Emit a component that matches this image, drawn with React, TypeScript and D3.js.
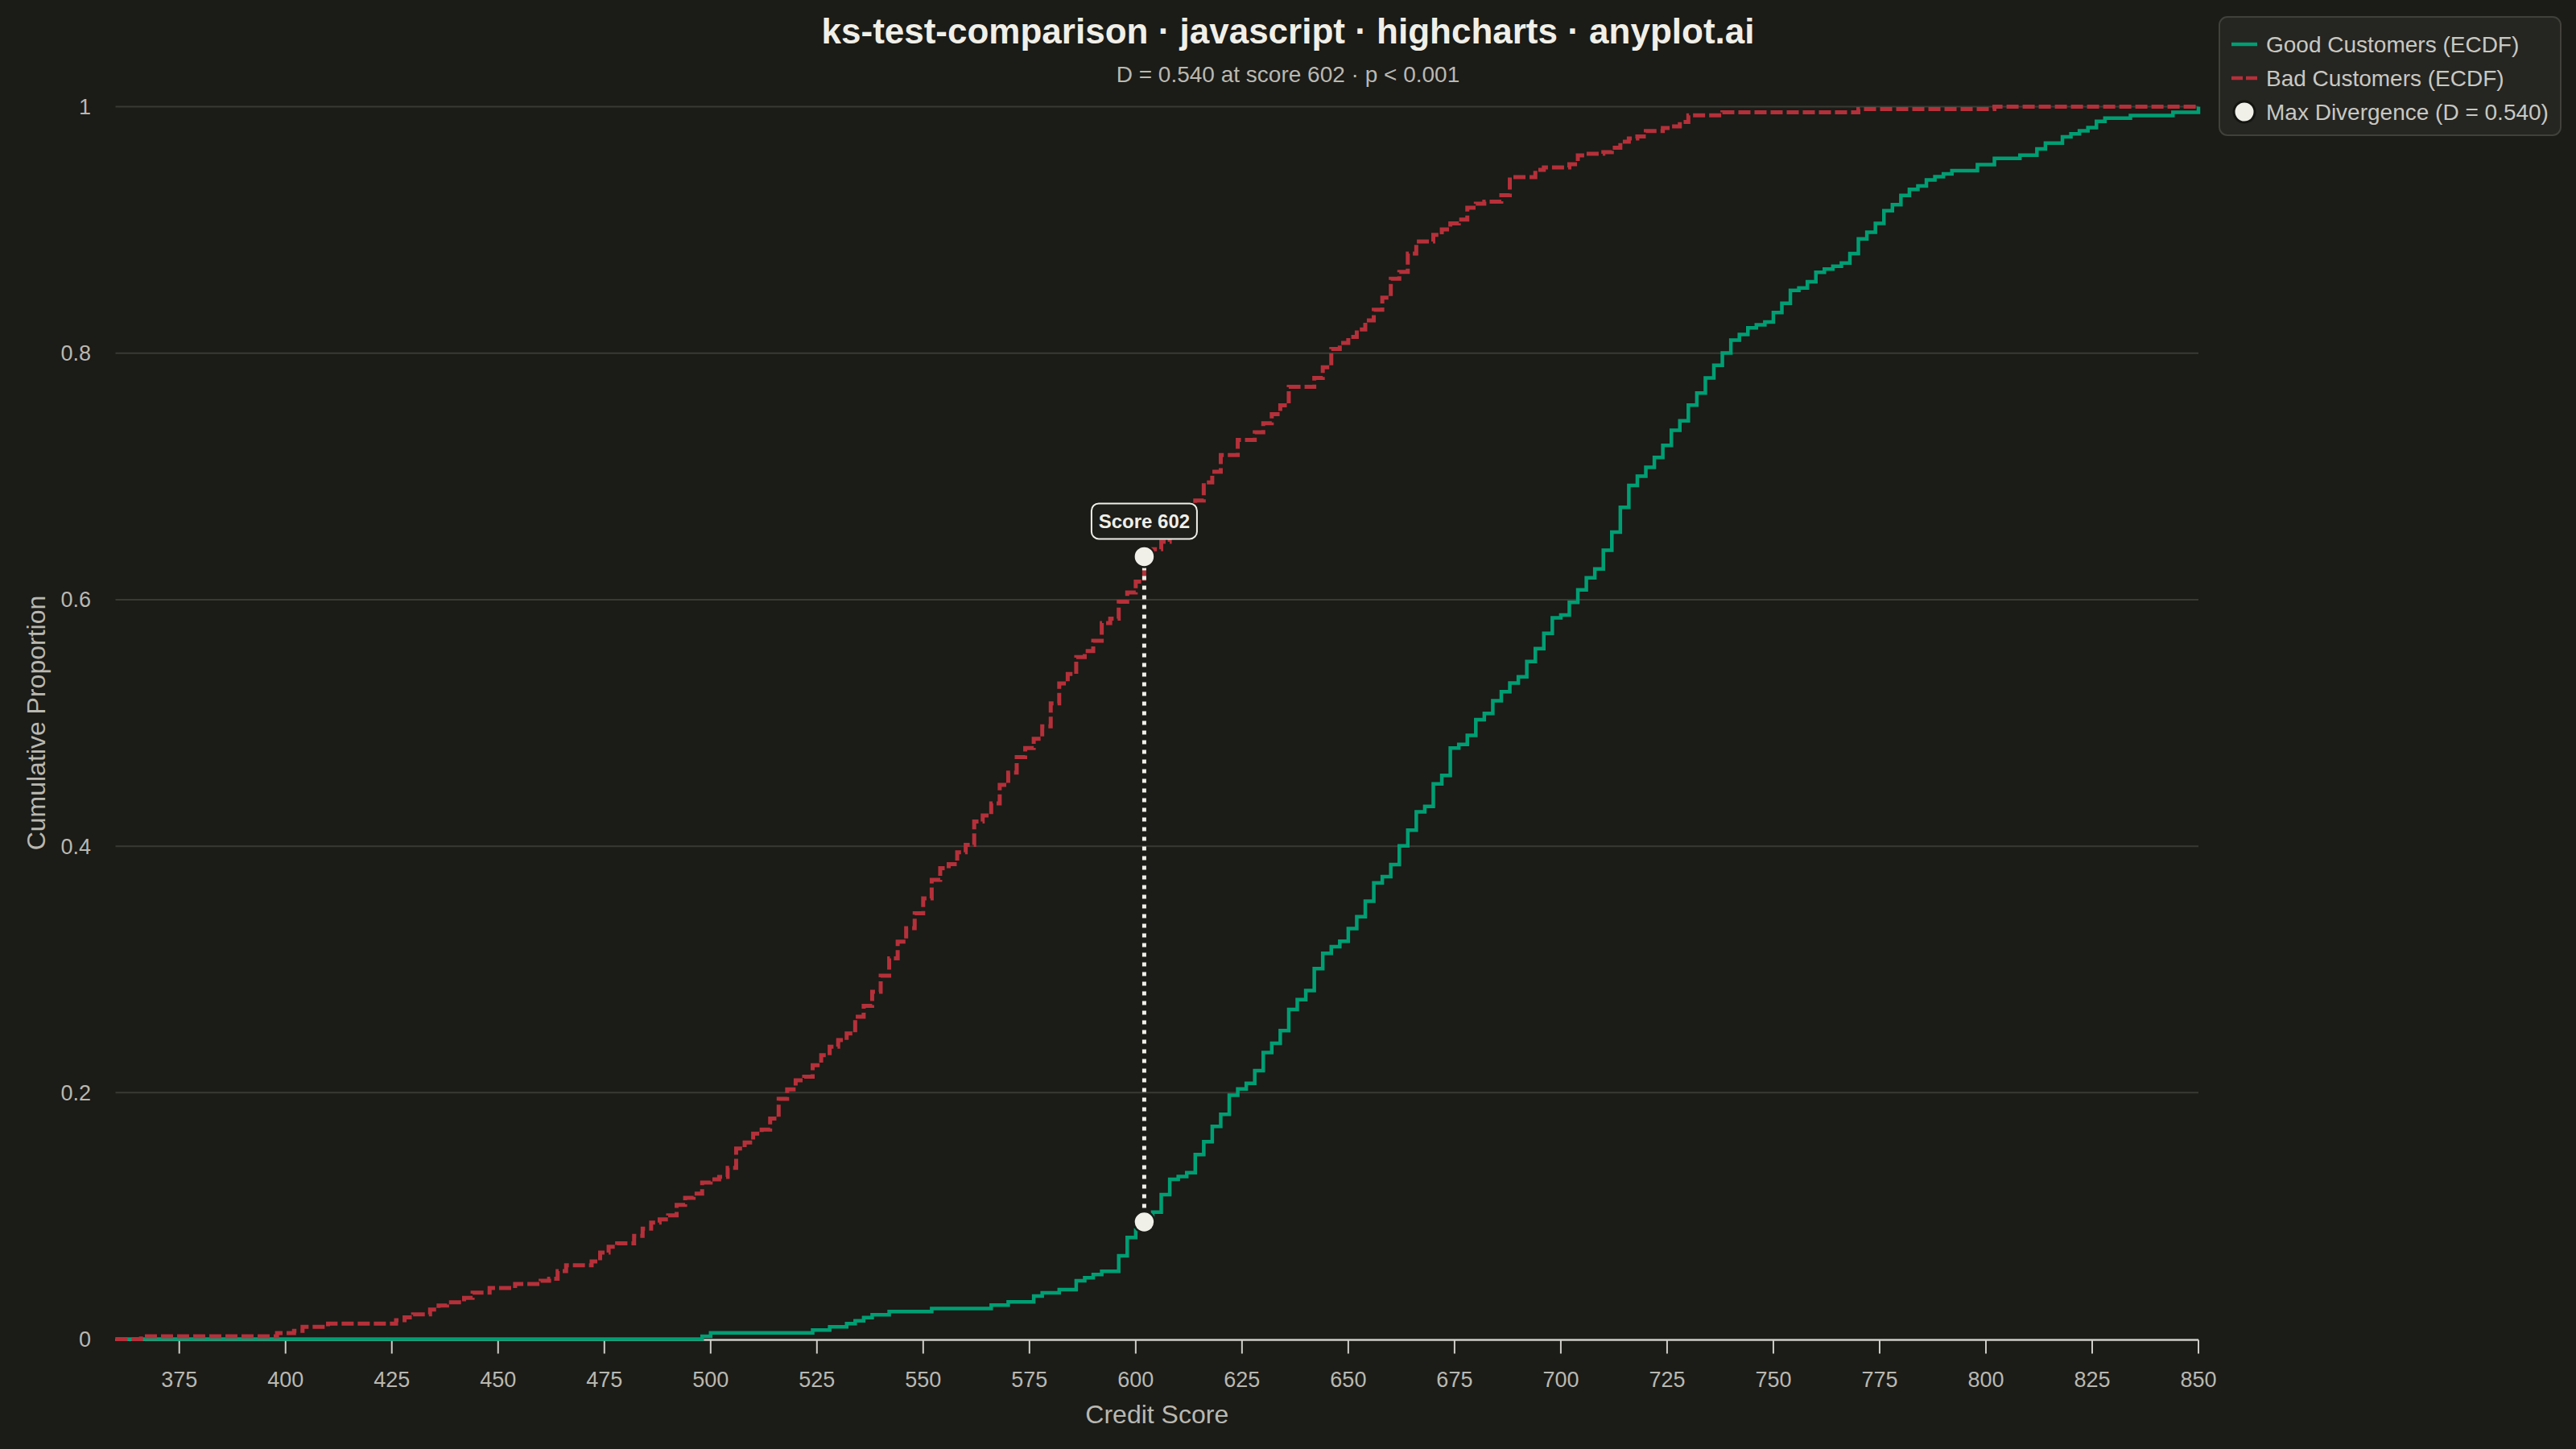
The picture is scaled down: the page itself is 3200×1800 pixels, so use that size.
import React, { useEffect } from "react";
import * as d3 from "d3";

const W = 3200;
const H = 1800;
const BG = "#1b1b17";
const GOOD_COLOR = "#009e73";
const BAD_COLOR = "#b5303a";
const INK = "#f0efe8";
const MUTED = "#b9b8b1";
const GRID = "#3a3a35";
const FONT = "'Liberation Sans', Arial, Helvetica, sans-serif";

// Good customers ECDF (score where the step starts, cumulative proportion)
const goodScores = [
  360, 498, 500, 524, 528, 532, 534, 536, 538, 542, 552, 566, 570, 576, 578, 582, 586, 588, 590, 592,
  596, 598, 600, 602, 604, 606, 608, 610, 612, 614, 616, 618, 620, 622, 624, 626, 628, 630, 632, 634,
  636, 638, 640, 642, 644, 646, 648, 650, 652, 654, 656, 658, 660, 662, 664, 666, 668, 670, 672, 674,
  676, 678, 680, 682, 684, 686, 688, 690, 692, 694, 696, 698, 700, 702, 704, 706, 708, 710, 712, 714,
  716, 718, 720, 722, 724, 726, 728, 730, 732, 734, 736, 738, 740, 742, 744, 746, 748, 750, 752, 754,
  756, 758, 760, 762, 764, 766, 768, 770, 772, 774, 776, 778, 780, 782, 784, 786, 788, 790, 792, 798,
  802, 808, 812, 814, 818, 820, 822, 824, 826, 828, 834, 844, 850,
];
const goodEcdf = [
  0, 0.0023, 0.0051, 0.0073, 0.0099, 0.0125, 0.0149, 0.0175, 0.0197, 0.0223, 0.0249, 0.0276, 0.0302, 0.0349, 0.0376, 0.0402, 0.0474, 0.0498, 0.0524, 0.055,
  0.0676, 0.0824, 0.0885, 0.095, 0.1031, 0.1173, 0.1297, 0.132, 0.135, 0.1498, 0.1602, 0.1726, 0.1824, 0.198, 0.203, 0.2075, 0.2178, 0.2326, 0.24, 0.2504,
  0.2675, 0.2755, 0.2829, 0.3007, 0.3131, 0.3184, 0.3229, 0.3332, 0.3427, 0.3554, 0.3702, 0.3752, 0.385, 0.4003, 0.413, 0.4278, 0.4323, 0.4506, 0.4574, 0.4796,
  0.4825, 0.4899, 0.5027, 0.5077, 0.518, 0.5253, 0.5324, 0.5374, 0.5499, 0.5603, 0.5727, 0.5853, 0.5875, 0.5978, 0.608, 0.6178, 0.625, 0.6402, 0.6548, 0.675,
  0.6928, 0.7002, 0.7075, 0.7154, 0.7252, 0.7375, 0.7451, 0.7579, 0.7677, 0.78, 0.7903, 0.8002, 0.8107, 0.8152, 0.8206, 0.823, 0.8253, 0.833, 0.8405, 0.851,
  0.853, 0.858, 0.8656, 0.8682, 0.8706, 0.8732, 0.8808, 0.8928, 0.8982, 0.9054, 0.9156, 0.9206, 0.928, 0.933, 0.9357, 0.9407, 0.9433, 0.9455, 0.9481, 0.9531,
  0.9581, 0.9607, 0.9657, 0.9705, 0.9755, 0.9781, 0.9805, 0.9831, 0.9881, 0.9907, 0.9929, 0.9955, 1.0,
];

// Bad customers ECDF
const badScores = [
  360, 366, 398, 402, 404, 410, 426, 428, 430, 434, 436, 438, 442, 444, 448, 454, 460, 462, 464, 466,
  472, 474, 476, 478, 482, 484, 486, 488, 490, 492, 494, 496, 498, 500, 502, 504, 506, 508, 510, 512,
  514, 516, 518, 520, 522, 524, 526, 528, 530, 532, 534, 536, 538, 540, 542, 544, 546, 548, 550, 552,
  554, 556, 558, 560, 562, 564, 566, 568, 570, 572, 574, 576, 578, 580, 582, 584, 586, 588, 590, 592,
  594, 596, 598, 600, 602, 604, 606, 608, 610, 612, 614, 616, 618, 620, 624, 628, 630, 632, 634, 636,
  642, 644, 646, 648, 650, 652, 654, 656, 658, 660, 662, 664, 666, 670, 672, 674, 676, 678, 680, 682,
  686, 688, 694, 696, 702, 704, 706, 710, 712, 714, 716, 718, 720, 724, 726, 728, 730, 738, 770, 802,
  850,
];
const badEcdf = [
  0, 0.0023, 0.0049, 0.0067, 0.0099, 0.0125, 0.0153, 0.0176, 0.0201, 0.024, 0.0273, 0.0299, 0.0334, 0.0378, 0.0415, 0.0447, 0.0474, 0.049, 0.0552, 0.06,
  0.063, 0.0702, 0.075, 0.0778, 0.0837, 0.0896, 0.0945, 0.0972, 0.1005, 0.109, 0.1146, 0.118, 0.127, 0.1297, 0.1316, 0.139, 0.1546, 0.1595, 0.1668, 0.17,
  0.179, 0.195, 0.2026, 0.21, 0.2129, 0.2223, 0.2304, 0.2372, 0.2426, 0.248, 0.2616, 0.2705, 0.2819, 0.2949, 0.309, 0.3225, 0.3334, 0.3455, 0.3577, 0.3726,
  0.3821, 0.3854, 0.395, 0.401, 0.42, 0.4249, 0.4347, 0.4497, 0.4597, 0.4722, 0.4797, 0.4872, 0.4972, 0.5159, 0.532, 0.5397, 0.5534, 0.5584, 0.5667, 0.581,
  0.5847, 0.5984, 0.6059, 0.6146, 0.635, 0.641, 0.647, 0.652, 0.66, 0.67, 0.6805, 0.6952, 0.7038, 0.7174, 0.7296, 0.7358, 0.7432, 0.7505, 0.7577, 0.7727,
  0.78, 0.7886, 0.8034, 0.8083, 0.8132, 0.8193, 0.8267, 0.8353, 0.8451, 0.8604, 0.866, 0.8808, 0.8906, 0.896, 0.9004, 0.9053, 0.9085, 0.9181, 0.9213, 0.923,
  0.9282, 0.9429, 0.9488, 0.9508, 0.9533, 0.9606, 0.9619, 0.9631, 0.9668, 0.9717, 0.9742, 0.9759, 0.9803, 0.9827, 0.984, 0.9877, 0.9931, 0.9955, 0.9981, 1.0,
  1.0,
];

const xTicks = [375, 400, 425, 450, 475, 500, 525, 550, 575, 600, 625, 650, 675, 700, 725, 750, 775, 800, 825, 850];
const yTicks = [0, 0.2, 0.4, 0.6, 0.8, 1];
const yTickLabels = ["0", "0.2", "0.4", "0.6", "0.8", "1"];

const maxScore = 602;
const maxGood = 0.095;
const maxBad = 0.635;
const dStat = 0.54;

const legendItems = [
  { label: "Good Customers (ECDF)", kind: "good" },
  { label: "Bad Customers (ECDF)", kind: "bad" },
  { label: `Max Divergence (D = ${dStat.toFixed(3)})`, kind: "marker" },
];

const PLOT_LEFT = 143.5;
const PLOT_RIGHT = 2731;
const PLOT_TOP = 132.6;
const PLOT_BOTTOM = 1663.5;

export default function App() {
  useEffect(() => {
    document.body.style.margin = "0";
    document.body.style.background = BG;
  }, []);

  const x = d3.scaleLinear().domain([360, 850]).range([PLOT_LEFT, PLOT_RIGHT]);
  const y = d3.scaleLinear().domain([0, 1]).range([PLOT_BOTTOM, PLOT_TOP]);

  const line = d3
    .line<[number, number]>()
    .x((d) => x(d[0]))
    .y((d) => y(d[1]))
    .curve(d3.curveStepAfter);

  const goodPath = line(goodScores.map((s, i) => [s, goodEcdf[i]] as [number, number])) || "";
  const badPath = line(badScores.map((s, i) => [s, badEcdf[i]] as [number, number])) || "";

  const mx = x(maxScore);
  const myTop = y(maxBad);
  const myBottom = y(maxGood);

  const boxW = 131;
  const boxH = 44;
  const boxY = myTop - 12 - 10 - boxH;

  return (
    <svg
      width={W}
      height={H}
      viewBox={`0 0 ${W} ${H}`}
      style={{ display: "block", position: "absolute", left: 0, top: 0 }}
      fontFamily={FONT}
    >
      <rect x={0} y={0} width={W} height={H} fill={BG} />

      {/* Title */}
      <text x={1600} y={54} textAnchor="middle" fontSize={44} fontWeight="bold" fill={INK}>
        ks-test-comparison · javascript · highcharts · anyplot.ai
      </text>
      <text x={1600} y={102} textAnchor="middle" fontSize={28} fill={MUTED}>
        {`D = ${dStat.toFixed(3)} at score ${maxScore} · p < 0.001`}
      </text>

      {/* Grid */}
      {yTicks.map((t, i) => (
        <g key={`y${i}`}>
          {t !== 0 && (
            <line x1={PLOT_LEFT} x2={PLOT_RIGHT} y1={y(t)} y2={y(t)} stroke={GRID} strokeWidth={2} />
          )}
          <text x={113} y={y(t)} dy="0.35em" textAnchor="end" fontSize={27} fill={MUTED}>
            {yTickLabels[i]}
          </text>
        </g>
      ))}

      {/* X axis */}
      <line x1={PLOT_LEFT} x2={PLOT_RIGHT} y1={PLOT_BOTTOM + 1} y2={PLOT_BOTTOM + 1} stroke="#cfcec8" strokeWidth={2.5} />
      {xTicks.map((t) => (
        <g key={`x${t}`}>
          <line x1={x(t)} x2={x(t)} y1={PLOT_BOTTOM + 1} y2={PLOT_BOTTOM + 18} stroke="#cfcec8" strokeWidth={2} />
          <text x={x(t)} y={1723} textAnchor="middle" fontSize={27} fill={MUTED}>
            {t}
          </text>
        </g>
      ))}

      <text x={(PLOT_LEFT + PLOT_RIGHT) / 2} y={1768} textAnchor="middle" fontSize={32} fill={MUTED}>
        Credit Score
      </text>
      <text
        transform={`translate(45, ${(PLOT_TOP + PLOT_BOTTOM) / 2}) rotate(-90)`}
        textAnchor="middle"
        dy="0.35em"
        fontSize={32}
        fill={MUTED}
      >
        Cumulative Proportion
      </text>

      {/* Series */}
      <path d={goodPath} fill="none" stroke={GOOD_COLOR} strokeWidth={4.5} strokeLinejoin="miter" />
      <path d={badPath} fill="none" stroke={BAD_COLOR} strokeWidth={5} strokeDasharray="15,5" />

      {/* Max divergence */}
      <line x1={mx} x2={mx} y1={myTop} y2={myBottom} stroke={INK} strokeWidth={5} strokeDasharray="5,7" />
      <circle cx={mx} cy={myTop} r={13} fill={INK} stroke={BG} strokeWidth={2.5} />
      <circle cx={mx} cy={myBottom} r={13} fill={INK} stroke={BG} strokeWidth={2.5} />

      <rect x={mx - boxW / 2} y={boxY} width={boxW} height={boxH} rx={9} fill="#1e1e1a" stroke={INK} strokeWidth={2} />
      <text x={mx} y={boxY + 31} textAnchor="middle" fontSize={24} fontWeight="bold" fill={INK}>
        {`Score ${maxScore}`}
      </text>

      {/* Legend */}
      <rect x={2757} y={21} width={424} height={147} rx={10} fill="#252521" stroke="#41413b" strokeWidth={2} />
      {legendItems.map((it, i) => {
        const cy = 55 + i * 42;
        return (
          <g key={it.kind}>
            {it.kind === "good" && (
              <line x1={2772} x2={2804} y1={cy} y2={cy} stroke={GOOD_COLOR} strokeWidth={4.5} />
            )}
            {it.kind === "bad" && (
              <line x1={2772} x2={2804} y1={cy} y2={cy} stroke={BAD_COLOR} strokeWidth={4.5} strokeDasharray="14,4" />
            )}
            {it.kind === "marker" && <circle cx={2788} cy={cy} r={13} fill={INK} stroke="#141411" strokeWidth={3} />}
            <text x={2815} y={cy} dy="0.35em" fontSize={28} fill="#c9c8c1">
              {it.label}
            </text>
          </g>
        );
      })}
    </svg>
  );
}
